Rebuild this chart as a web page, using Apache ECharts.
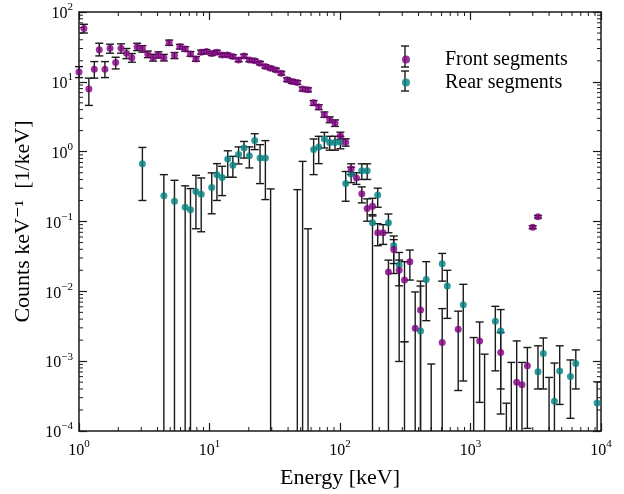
<!DOCTYPE html>
<html>
<head>
<meta charset="utf-8">
<script src="https://cdn.jsdelivr.net/npm/echarts@6/dist/echarts.min.js"></script>
<style>
  html, body { margin: 0; padding: 0; background: #fff; }
  #chart { width: 624px; height: 494px; }
</style>
</head>
<body>
<div id="chart"></div>
<script>
// front segments: energy [keV], counts, error bar low / high (0 = runs off the axis)
var frontEnergy = [1.00, 1.09, 1.19, 1.31, 1.43, 1.58, 1.73, 1.91, 2.10, 2.31, 2.54, 2.79, 3.06, 3.37, 3.70,
  4.06, 4.47, 4.91, 5.39, 5.93, 6.51, 7.15, 7.87, 8.64, 9.48, 10.4, 11.4, 12.5, 13.7, 15.1, 16.7, 18.4,
  20.2, 22.2, 24.4, 26.8, 29.4, 32.3, 35.5, 39.3, 42.9, 47.1, 51.7, 56.9, 62.8, 68.7, 75.9, 83.4, 91.6,
  100.7, 110.6, 121.7, 133.6, 146.9, 161.5, 177.4, 194.5, 214, 235, 258, 284, 312, 343, 377, 414, 500,
  607, 805, 1175, 1703, 2259, 2479, 2728, 2997, 3289];
var frontCounts = [13.8, 58, 7.9, 15.2, 28.7, 15.2, 30.3, 18.9, 30.3, 25.7, 22.2, 31.9, 29.9, 24.9, 22.2,
  24.3, 22.2, 36.4, 23.8, 31.9, 29.6, 25.1, 21.3, 26.6, 27.1, 25.4, 26.6, 24.3, 24.3, 23.0, 20.6, 23.5,
  20.6, 20.0, 18.5, 16.6, 15.7, 14.8, 13.3, 10.7, 10.1, 9.8, 7.9, 7.7, 5.0, 4.35, 3.38, 2.87, 2.57,
  1.69, 1.36, 0.566, 0.42, 0.249, 0.153, 0.166, 0.069, 0.069, 0.0189, 0.0398, 0.020, 0.0145, 0.0266, 0.00296, 0.0054, null,
  0.00185, 0.00287, 0.00195, 0.00133, 0.0005, 0.000458, 0.000857, 0.083, 0.117];
var frontLow = [11.5, 50, 4.6, 11.3, 23.5, 11.5, 25.7, 15.3, 25.7, 21.5, 19.1, 28.0, 26.6, 22.2, 19.8,
  21.9, 19.9, 33.3, 21.5, 29.5, 27.4, 23.2, 19.7, 24.9, 25.4, 23.8, 25.0, 22.8, 22.9, 21.7, 19.4, 22.2,
  19.4, 18.9, 17.5, 15.7, 14.8, 14.0, 12.5, 10.1, 9.5, 9.2, 7.4, 7.2, 4.6, 4.0, 3.1, 2.6, 2.3,
  1.5, 1.2, 0.47, 0.34, 0.185, 0.101, 0.12, 0.045, 0.047, 0, 0.025, 0.012, 0.0019, 0.0145, 0, 0, 0,
  0, 0.00038, 0.000257, 0.0004, 0, 0, 0.000109, 0.079, 0.112];
var frontHigh = [16.5, 66.7, 11.3, 19.5, 35.7, 19.5, 34.6, 22.5, 35.0, 30.0, 25.4, 35.7, 33.0, 27.6, 24.8,
  26.9, 24.7, 39.6, 26.3, 34.4, 31.9, 27.1, 23.0, 28.4, 28.9, 27.1, 28.3, 25.8, 25.8, 24.4, 21.9, 24.9,
  21.8, 21.2, 19.6, 17.6, 16.6, 15.7, 14.1, 11.4, 10.8, 10.4, 8.4, 8.2, 5.4, 4.7, 3.7, 3.15, 2.85,
  1.9, 1.53, 0.67, 0.5, 0.313, 0.211, 0.215, 0.093, 0.09, 0.028, 0.055, 0.028, 0.0266, 0.039, 0.0098, 0.014, 0.00091,
  0.00566, 0.0052, 0.00364, 0.00257, 0.00195, 0.00096, 0.00157, 0.087, 0.122];

// rear segments
var rearEnergy = [3.06, 4.47, 5.39, 6.51, 7.15, 7.87, 8.64, 10.4, 11.4, 12.5, 13.8, 15.1, 16.7, 18.4, 20.2,
  22.2, 24.4, 26.8, 29.4, 47.1, 51.7, 56.9, 62.8, 68.7, 75.9, 83.4, 91.6, 100.7, 110.6, 121.7, 146.9,
  161.5, 177.4, 194.5, 235, 258, 284, 312, 414, 458, 607, 664, 880, 1057, 1282, 1550, 1703, 1883, 2055,
  3289, 3614, 4000, 4397, 4827, 5835, 6412, 9340];
var rearCounts = [0.674, 0.233, 0.195, 0.16, 0.147, 0.268, 0.245, 0.306, 0.469, 0.425, 0.787, 0.637, 0.914, 1.13, 0.877,
  1.44, 0.81, 0.81, null, null, null, null, 1.07, 1.17, 1.52, 1.35, 1.35, 1.37, 0.349, 0.48, 0.535,
  0.535, 0.0957, 0.24, 0.0957, 0.0454, 0.0238, null, 0.00271, 0.0148, 0.0249, 0.0119, 0.00645, null, null, 0.00373, 0.00271, null, null,
  0.000703, 0.00129, null, 0.000266, 0.000726, 0.000604, 0.000927, 0.000251];
var rearLow = [0.2, 0, 0, 0, 0, 0.0787, 0.0713, 0.129, 0.2, 0.235, 0.43, 0.43, 0.667, 0.81, 0.585,
  1.07, 0.349, 0.206, 0, 0, 0, 0, 0.469, 0.674, 1.13, 1.05, 1.05, 1.1, 0.195, 0.36, 0.4,
  0.4, 0, 0.16, 0.069, 0.018, 0.00099, 0, 0, 0.0038, 0.014, 0.0041, 0.00052, 0, 0, 0.000727, 0.000175, 0, 0,
  0.0004, 0.0004, 0, 0, 0.00024, 0.000152, 0.0004, 0];
var rearHigh = [1.15, 0.469, 0.389, 0.324, 0.296, 0.458, 0.42, 0.497, 0.674, 0.617, 1.03, 0.857, 1.17, 1.40, 1.17,
  1.81, 1.26, 1.44, 0.293, 0.286, 0.726, 0.0787, 1.52, 1.66, 1.89, 1.66, 1.66, 1.65, 0.52, 0.6, 0.67,
  0.67, 0.125, 0.3, 0.128, 0.062, 0.036, 0.0019, 0.0119, 0.0266, 0.0349, 0.02, 0.0126, 0.00218, 0.00126, 0.0061, 0.00548, 0.00025, 0.00096,
  0.00166, 0.00215, 0.000585, 0.00094, 0.00166, 0.00104, 0.00145, 0.000506];

var FRONT = "#800080";
var REAR = "#008080";
var INK = "#1a1a1a";
var SERIF = "'Liberation Serif', 'DejaVu Serif', serif";

function points(energy, counts) {
  return energy.map(function (e, i) { return [e, counts[i] == null ? "-" : counts[i]]; });
}
function bars(energy, low, high) {
  return energy.map(function (e, i) { return [e, low[i], high[i]]; });
}

// minor tick positions 2..9 in each decade
var minorX = [];
for (var d = 0; d < 4; d++) {
  for (var m = 2; m <= 9; m++) minorX.push([m * Math.pow(10, d), 1]);
}
var minorY = [];
for (var d2 = -4; d2 < 2; d2++) {
  for (var m2 = 2; m2 <= 9; m2++) minorY.push([1, m2 * Math.pow(10, d2)]);
}

function renderBar(params, api) {
  var cs = params.coordSys;
  var x = api.value(0);
  var lo = api.value(1);
  var hi = api.value(2);
  var bottom = cs.y + cs.height;
  var top = api.coord([x, hi]);
  var px = top[0];
  var yLo = lo > 0 ? api.coord([x, lo])[1] : bottom;
  var style = { stroke: INK, lineWidth: 1.4 };
  var kids = [
    { type: "line", shape: { x1: px, y1: top[1], x2: px, y2: Math.min(yLo, bottom) }, style: style },
    { type: "line", shape: { x1: px - 4, y1: top[1], x2: px + 4, y2: top[1] }, style: style }
  ];
  if (lo > 0 && yLo <= bottom) {
    kids.push({ type: "line", shape: { x1: px - 4, y1: yLo, x2: px + 4, y2: yLo }, style: style });
  }
  return { type: "group", children: kids };
}

function renderMinorX(params, api) {
  var cs = params.coordSys;
  var px = api.coord([api.value(0), api.value(1)])[0];
  var style = { stroke: INK, lineWidth: 1 };
  return { type: "group", children: [
    { type: "line", shape: { x1: px, y1: cs.y + cs.height, x2: px, y2: cs.y + cs.height - 4 }, style: style },
    { type: "line", shape: { x1: px, y1: cs.y, x2: px, y2: cs.y + 4 }, style: style }
  ] };
}
function renderMinorY(params, api) {
  var cs = params.coordSys;
  var py = api.coord([api.value(0), api.value(1)])[1];
  var style = { stroke: INK, lineWidth: 1 };
  return { type: "group", children: [
    { type: "line", shape: { x1: cs.x, y1: py, x2: cs.x + 4, y2: py }, style: style },
    { type: "line", shape: { x1: cs.x + cs.width, y1: py, x2: cs.x + cs.width - 4, y2: py }, style: style }
  ] };
}

function powLabel(value) {
  var exp = Math.round(Math.log10(value));
  var s = exp < 0 ? "\u2212" + (-exp) : String(exp);
  return "{b|10}{e|" + s + "}";
}
var labelRich = {
  b: { fontFamily: SERIF, fontSize: 16, color: "#000", lineHeight: 20, verticalAlign: "bottom" },
  e: { fontFamily: SERIF, fontSize: 11, color: "#000", lineHeight: 20, verticalAlign: "top" }
};

var axisLine = { show: true, onZero: false, lineStyle: { color: INK, width: 1.5 } };
var majorTick = { show: true, inside: true, length: 8, lineStyle: { color: INK, width: 1.2 } };

var chart = echarts.init(document.getElementById("chart"));
chart.setOption({
  animation: false,
  grid: { left: 79, right: 23, top: 12, bottom: 61 },
  xAxis: [
    {
      type: "log", logBase: 10, min: 1, max: 10000, position: "bottom",
      axisLine: axisLine, axisTick: majorTick, splitLine: { show: false },
      axisLabel: { formatter: powLabel, rich: labelRich, margin: 8 },
      name: "Energy [keV]", nameLocation: "middle", nameGap: 36,
      nameTextStyle: { fontFamily: SERIF, fontSize: 22, color: "#000" }
    },
    {
      type: "log", logBase: 10, min: 1, max: 10000, position: "top",
      axisLine: axisLine, axisTick: majorTick, axisLabel: { show: false }, splitLine: { show: false }
    }
  ],
  yAxis: [
    {
      type: "log", logBase: 10, min: 0.0001, max: 100, position: "left",
      axisLine: axisLine, axisTick: majorTick, splitLine: { show: false },
      axisLabel: { formatter: powLabel, rich: labelRich, margin: 6 },
      name: "Counts keV\u207B\u00B9  [1/keV]", nameLocation: "middle", nameGap: 44,
      nameTextStyle: { fontFamily: SERIF, fontSize: 22, color: "#000" }
    },
    {
      type: "log", logBase: 10, min: 0.0001, max: 100, position: "right",
      axisLine: axisLine, axisTick: majorTick, axisLabel: { show: false }, splitLine: { show: false }
    }
  ],
  legend: {
    data: ["Front segments", "Rear segments"],
    orient: "vertical", left: 397, top: 44, itemGap: 2,
    icon: "circle", itemWidth: 8, itemHeight: 8,
    selectedMode: false,
    textStyle: { fontFamily: SERIF, fontSize: 20, color: "#000", lineHeight: 21, padding: [0, 0, 0, 30] }
  },
  graphic: [
    { type: "line", shape: { x1: 405, y1: 46, x2: 405, y2: 67 }, style: { stroke: INK, lineWidth: 1.4 } },
    { type: "line", shape: { x1: 401, y1: 46, x2: 409, y2: 46 }, style: { stroke: INK, lineWidth: 1.4 } },
    { type: "line", shape: { x1: 401, y1: 67, x2: 409, y2: 67 }, style: { stroke: INK, lineWidth: 1.4 } },
    { type: "line", shape: { x1: 405, y1: 71, x2: 405, y2: 91 }, style: { stroke: INK, lineWidth: 1.4 } },
    { type: "line", shape: { x1: 401, y1: 71, x2: 409, y2: 71 }, style: { stroke: INK, lineWidth: 1.4 } },
    { type: "line", shape: { x1: 401, y1: 91, x2: 409, y2: 91 }, style: { stroke: INK, lineWidth: 1.4 } }
  ],
  series: [
    { type: "custom", name: "minor x", data: minorX, renderItem: renderMinorX, silent: true },
    { type: "custom", name: "minor y", data: minorY, renderItem: renderMinorY, silent: true },
    {
      type: "custom", name: "rear errors", data: bars(rearEnergy, rearLow, rearHigh),
      renderItem: renderBar, encode: { x: 0, y: [1, 2] }, silent: true
    },
    {
      type: "scatter", name: "Rear segments", data: points(rearEnergy, rearCounts),
      symbol: "circle", symbolSize: 7, itemStyle: { color: REAR }, silent: true
    },
    {
      type: "custom", name: "front errors", data: bars(frontEnergy, frontLow, frontHigh),
      renderItem: renderBar, encode: { x: 0, y: [1, 2] }, silent: true
    },
    {
      type: "scatter", name: "Front segments", data: points(frontEnergy, frontCounts),
      symbol: "circle", symbolSize: 7, itemStyle: { color: FRONT }, silent: true
    }
  ]
});

window.addEventListener("resize", function () {
  chart.resize();
});
</script>
</body>
</html>
